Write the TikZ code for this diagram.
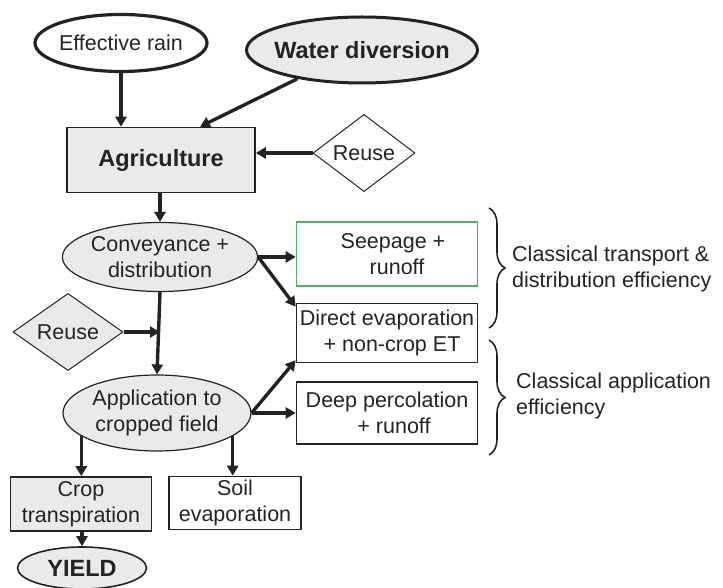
\documentclass[tikz,border=0pt]{standalone}
\usepackage{fontspec}
\setmainfont{Liberation Sans}
\usepackage{xcolor}
\usepackage{tikz}
\usetikzlibrary{shapes.geometric,arrows.meta,decorations.pathreplacing}

\definecolor{boxgray}{RGB}{234,234,234}
\definecolor{inkgray}{RGB}{35,35,35}
\definecolor{seepgreen}{RGB}{80,175,100}

\begin{document}
\begin{tikzpicture}[x=1pt, y=-1pt,
    every node/.style={text=inkgray, font=\fontsize{21.5}{26}\selectfont, align=center, inner sep=0pt},
    bigtext/.style={font=\fontsize{23.5}{27}\selectfont\bfseries},
    oval/.style={ellipse, draw=inkgray, fill=boxgray, line width=1.2pt},
    flowbox/.style={rectangle, draw=inkgray, line width=1.6pt, minimum width=181pt},
    reuse/.style={diamond, draw=inkgray, fill=boxgray, line width=1pt},
    flow/.style={draw=inkgray, line width=3.4pt, -{Triangle[length=10pt,width=11pt]}},
    effbrace/.style={draw=inkgray, line width=1.6pt, decorate, decoration={brace, amplitude=16pt}}]
    \useasboundingbox (0,0) rectangle (723,588);

    % sources
    \node[oval, fill=white, line width=3.2pt, inner xsep=-9pt, minimum width=172pt, minimum height=57pt] (rain) at (121,43) {Effective rain};
    \node[oval, bigtext, line width=3pt, inner xsep=-10pt, minimum width=231pt, minimum height=66pt] (water) at (362,50) {Water diversion};
    \node[rectangle, draw=inkgray, fill=boxgray, line width=1.6pt, bigtext, minimum width=188pt, minimum height=65pt] (agri) at (161,160) {Agriculture};
    \node[reuse, fill=white, minimum width=102pt, minimum height=52pt] (reuseA) at (364,153) {Reuse};

    % distribution and field
    \node[oval, minimum width=189pt, minimum height=69pt] (conv) at (160,257) {Conveyance +\\distribution};
    \node[reuse, minimum width=110pt, minimum height=61pt] (reuseB) at (68,332) {Reuse};
    \coordinate (join) at (160,332);
    \node[oval, minimum width=188pt, minimum height=76pt] (appl) at (157,413) {Application to\\cropped field};

    % losses
    \node[flowbox, draw=seepgreen, minimum height=64pt] (seep) at (387,254) {\hspace{12pt}Seepage +\\\hspace{20pt}runoff};
    \node[flowbox, minimum height=59pt] (direct) at (387,333) {Direct evaporation\\\hspace{10pt}+ non-crop ET};
    \node[flowbox, minimum height=62pt] (deep) at (387,413) {Deep percolation\\\hspace{14pt}+ runoff};

    % crop
    \node[rectangle, draw=inkgray, fill=boxgray, line width=1.6pt, minimum width=141pt, minimum height=54pt] (crop) at (81,504) {Crop\\transpiration};
    \node[rectangle, draw=inkgray, line width=1.6pt, minimum width=132pt, minimum height=53pt] (soil) at (235,503) {Soil\\evaporation};
    \node[oval, bigtext, line width=1.6pt, minimum width=129pt, minimum height=42pt] (yield) at (82,568) {YIELD};

    % efficiencies
    \node[anchor=west, align=left] (transp) at (512,269) {Classical transport \&\\distribution efficiency};
    \node[anchor=west, align=left] (applic) at (516,396) {Classical application\\efficiency};

    \draw[flow] (rain.south) -- (rain.south |- agri.north);
    \draw[flow] (water.204) -- ([xshift=39pt]agri.north);
    \draw[flow] (reuseA.west) -- (reuseA.west -| agri.east);
    \draw[flow] (agri.south -| conv.north) -- (conv.north);
    \draw[flow] (conv.south) -- (appl.north);
    \draw[flow] (reuseB.east) -- (join);
    \draw[flow] (conv.east) -- (conv.east -| seep.west);
    \draw[flow] (conv.east) -- ([yshift=-4pt]direct.north west);
    \draw[flow] (appl.east) -- ([yshift=3pt]direct.south west);
    \draw[flow] (appl.east) -- (appl.east -| deep.west);
    \draw[flow] (appl.197) -- (appl.197 |- crop.north);
    \draw[flow] (appl.343) -- (appl.343 |- soil.north);
    \draw[flow] (crop.south -| yield.north) -- (yield.north);

    \draw[effbrace] (489,208) -- (489,328);
    \draw[effbrace] (489,340) -- (489,455);
\end{tikzpicture}
\end{document}
